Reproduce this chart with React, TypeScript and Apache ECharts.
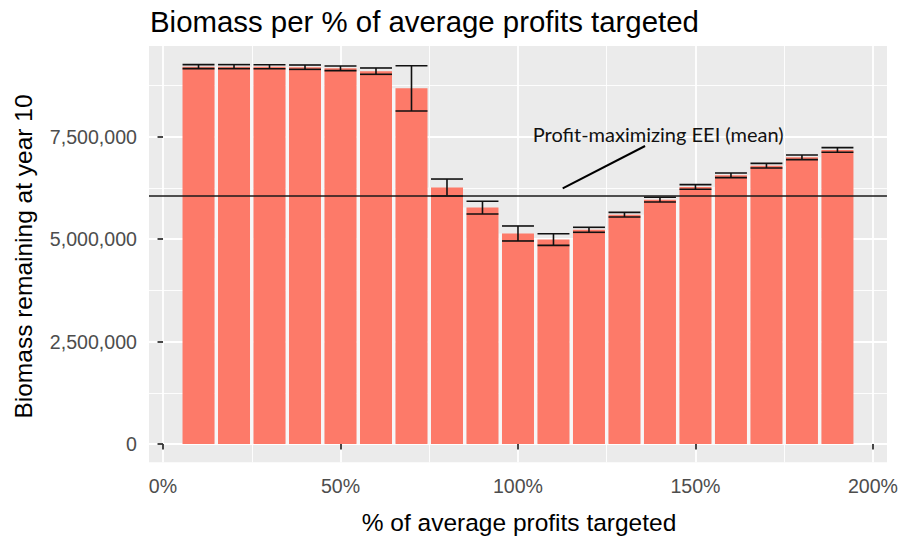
import React, { useEffect, useRef } from 'react';
import * as echarts from 'echarts';

// ---- data ----
const pctTargeted = [10, 20, 30, 40, 50, 60, 70, 80, 90, 100, 110, 120, 130, 140, 150, 160, 170, 180, 190];
const biomassMean = [
  9210000, 9210000, 9208000, 9197000, 9170000, 9100000, 8680000, 6260000, 5770000, 5138000,
  4990000, 5228000, 5597000, 5964000, 6273000, 6558000, 6793000, 6997000, 7176000,
];
const biomassSE = [
  49000, 49000, 49000, 53000, 57000, 77000, 553000, 207000, 155000, 183000,
  142000, 61000, 57000, 57000, 57000, 57000, 57000, 57000, 57000,
];
const xTicks = [0, 50, 100, 150, 200];
const xMinorTicks = [25, 75, 125, 175];
const yTicks = [0, 2500000, 5000000, 7500000];
const yMinorTicks = [1250000, 3750000, 6250000, 8750000];
const eeiMean = 6070000;
const annotationText = 'Profit-maximizing EEI (mean)';
const annotationArrowStart = [112.6, 6241000];
const annotationArrowEnd = [135.8, 7273000];
const annotationLabelAt = [139.5, 7554000];

const titleText = 'Biomass per % of average profits targeted';
const xTitle = '% of average profits targeted';
const yTitle = 'Biomass remaining at year 10';

const X_MIN = -3.95;
const X_MAX = 203.95;
const Y_MIN = -446600;
const Y_MAX = 9713700;
const BAR_W = 9; // in x units

const FONT = '"Liberation Sans", Arial, sans-serif';

export default function App() {
  const ref = useRef<HTMLDivElement>(null);

  useEffect(() => {
    if (!ref.current) return;
    const chart = echarts.init(ref.current, null, { renderer: 'svg' });

    const barData = pctTargeted.map((p, i) => [p, biomassMean[i]]);
    const errData = pctTargeted.map((p, i) => [p, biomassMean[i] - biomassSE[i], biomassMean[i] + biomassSE[i]]);
    const gapData = pctTargeted.slice(0, -1).map((p, i) => [
      (p + pctTargeted[i + 1]) / 2,
      Math.min(biomassMean[i], biomassMean[i + 1]),
    ]);

    const tickLabelStyle = { color: '#4D4D4D', fontSize: 19.6, fontFamily: FONT };
    const tickStyle = { color: '#333333', width: 1.8 };

    const option: any = {
      animation: false,
      backgroundColor: '#ffffff',
      grid: {
        left: 149,
        right: 11.7,
        top: 46,
        bottom: 76.7,
        show: true,
        backgroundColor: '#EBEBEB',
        borderWidth: 0,
      },
      xAxis: [
        {
          type: 'value',
          min: X_MIN,
          max: X_MAX,
          axisLine: { show: false },
          axisTick: { show: true, customValues: xTicks, length: 5.5, lineStyle: tickStyle },
          axisLabel: {
            customValues: xTicks,
            formatter: (v: number) => `${v}%`,
            margin: 14,
            ...tickLabelStyle,
          },
          splitLine: { show: true, lineStyle: { color: '#ffffff', width: 1.8 } },
        },
        {
          type: 'value',
          min: X_MIN,
          max: X_MAX,
          position: 'bottom',
          axisLine: { show: false },
          axisTick: { show: false, customValues: xMinorTicks },
          axisLabel: { show: false, customValues: xMinorTicks },
          splitLine: { show: true, lineStyle: { color: '#ffffff', width: 0.9 } },
        },
      ],
      yAxis: [
        {
          type: 'value',
          min: Y_MIN,
          max: Y_MAX,
          axisLine: { show: false },
          axisTick: { show: true, customValues: yTicks, length: 5.5, lineStyle: tickStyle },
          axisLabel: {
            customValues: yTicks,
            formatter: (v: number) => Math.round(v).toLocaleString('en-US'),
            margin: 12,
            ...tickLabelStyle,
          },
          splitLine: { show: true, lineStyle: { color: '#ffffff', width: 1.8 } },
        },
        {
          type: 'value',
          min: Y_MIN,
          max: Y_MAX,
          position: 'left',
          axisLine: { show: false },
          axisTick: { show: false, customValues: yMinorTicks },
          axisLabel: { show: false, customValues: yMinorTicks },
          splitLine: { show: true, lineStyle: { color: '#ffffff', width: 0.9 } },
        },
      ],
      graphic: [
        {
          type: 'text',
          x: 150,
          y: 21.5,
          style: {
            text: titleText,
            font: `29.4px ${FONT}`,
            fill: '#000000',
            align: 'left',
            verticalAlign: 'middle',
          },
        },
        {
          type: 'text',
          x: 519,
          y: 522.5,
          style: {
            text: xTitle,
            font: `24.5px ${FONT}`,
            fill: '#000000',
            align: 'center',
            verticalAlign: 'middle',
          },
        },
        {
          type: 'text',
          x: 23.5,
          y: 256.5,
          rotation: Math.PI / 2,
          style: {
            text: yTitle,
            font: `24.5px ${FONT}`,
            fill: '#000000',
            align: 'center',
            verticalAlign: 'middle',
          },
        },
      ],
      series: [
        {
          type: 'custom',
          name: 'gaps',
          xAxisIndex: 0,
          yAxisIndex: 0,
          silent: true,
          z: 1,
          data: gapData,
          encode: { x: 0, y: 1 },
          renderItem: (params: any, api: any) => {
            const x = api.value(0);
            const v = api.value(1);
            const p1 = api.coord([x - 0.5, v]);
            const p2 = api.coord([x + 0.5, 0]);
            return {
              type: 'rect',
              shape: { x: p1[0], y: p1[1], width: p2[0] - p1[0], height: p2[1] - p1[1] },
              style: { fill: '#F7F7F7' },
            };
          },
        },
        {
          type: 'bar',
          name: 'biomass',
          xAxisIndex: 0,
          yAxisIndex: 0,
          z: 2,
          barWidth: 32,
          data: barData,
          itemStyle: { color: '#FD7A69' },
          markLine: {
            silent: true,
            symbol: ['none', 'none'],
            label: { show: false },
            data: [
              { yAxis: eeiMean, lineStyle: { color: '#1a1a1a', width: 1.5, type: 'solid' } },
              [
                { coord: annotationArrowStart, lineStyle: { color: '#000000', width: 2, type: 'solid' } },
                { coord: annotationArrowEnd },
              ],
            ],
          },
          markPoint: {
            silent: true,
            data: [
              {
                coord: annotationLabelAt,
                symbol: 'circle',
                symbolSize: 1,
                itemStyle: { color: 'rgba(0,0,0,0)' },
                label: {
                  show: true,
                  position: 'inside',
                  formatter: annotationText,
                  fontFamily: 'Lato, "Open Sans", sans-serif',
                  fontSize: 20,
                  color: '#111111',
                },
              },
            ],
          },
        },
        {
          type: 'custom',
          name: 'se',
          xAxisIndex: 0,
          yAxisIndex: 0,
          silent: true,
          z: 3,
          data: errData,
          encode: { x: 0, y: [1, 2] },
          renderItem: (params: any, api: any) => {
            const x = api.value(0);
            const lo = api.coord([x, api.value(1)]);
            const hi = api.coord([x, api.value(2)]);
            const halfW = api.size([BAR_W, 0])[0] / 2;
            const style = { stroke: '#111111', lineWidth: 1.6 };
            return {
              type: 'group',
              children: [
                { type: 'line', shape: { x1: hi[0], y1: hi[1], x2: lo[0], y2: lo[1] }, style },
                { type: 'line', shape: { x1: hi[0] - halfW, y1: hi[1], x2: hi[0] + halfW, y2: hi[1] }, style },
                { type: 'line', shape: { x1: lo[0] - halfW, y1: lo[1], x2: lo[0] + halfW, y2: lo[1] }, style },
              ],
            };
          },
        },
      ],
    };

    chart.setOption(option);
    return () => chart.dispose();
  }, []);

  return (
    <div
      ref={ref}
      style={{ position: 'fixed', left: 0, top: 0, width: 901, height: 539, background: '#fff' }}
    />
  );
}
